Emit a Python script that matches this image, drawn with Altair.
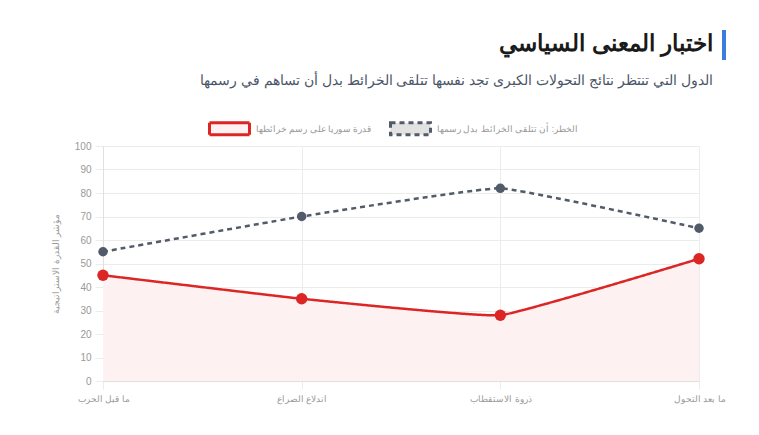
import altair as alt
import pandas as pd

categories = ["ما قبل الحرب", "اندلاع الصراع", "ذروة الاستقطاب", "ما بعد التحول"]
series_names = ["قدرة سوريا على رسم خرائطها", "الخطر: أن تتلقى الخرائط بدل رسمها"]
capacity = [45, 35, 28, 52]
risk = [55, 70, 82, 65]

rows = []
for c, v in zip(categories, capacity):
    rows.append({"stage": c, "series": series_names[0], "value": v})
for c, v in zip(categories, risk):
    rows.append({"stage": c, "series": series_names[1], "value": v})
df = pd.DataFrame(rows)

RED = "#dc2626"
GRAY = "#525b69"

x_enc = alt.X("stage:N", sort=categories,
              scale=alt.Scale(type="point", padding=0),
              axis=alt.Axis(title=None, labelAngle=0, labelColor="#999999",
                            labelFontSize=9, grid=True, gridColor="#ececec",
                            domainColor="#e0e0e0", tickColor="#ececec",
                            tickSize=8, labelPadding=5))
y_enc = alt.Y("value:Q", scale=alt.Scale(domain=[0, 100], nice=False),
              axis=alt.Axis(title="مؤشر القدرة الاستراتيجية", values=list(range(0, 101, 10)),
                            labelColor="#999999", labelFontSize=10,
                            titleColor="#999999", titleFontSize=9, titleFontWeight="normal",
                            titlePadding=14,
                            gridColor="#ececec", domainColor="#e0e0e0",
                            tickColor="#ececec", tickSize=8, labelPadding=4))

legend = alt.Legend(title=None, orient="none", direction="horizontal",
                    legendX=105, legendY=-39,
                    symbolType="M-1,-0.3L1,-0.3L1,0.3L-1,0.3Z", symbolSize=1600,
                    symbolStrokeWidth=3, labelColor="#999999", labelFontSize=8.5,
                    columnPadding=12, labelOffset=5)

color = alt.Color("series:N", scale=alt.Scale(domain=series_names, range=[RED, GRAY]),
                  legend=legend)
dash = alt.StrokeDash("series:N", scale=alt.Scale(domain=series_names, range=[[1, 0], [5, 4]]),
                      legend=legend)
fill = alt.Fill("series:N", scale=alt.Scale(domain=series_names, range=["#fdf1f1", "#e2e2e2"]),
                legend=legend)

base = alt.Chart(df)

area = base.transform_filter(alt.datum.series == series_names[0]).mark_area(
    interpolate="cardinal", tension=0.7, fillOpacity=1
).encode(x=x_enc, y=y_enc, fill=fill)

line = base.mark_line(interpolate="cardinal", tension=0.7, strokeWidth=2.5).encode(
    x=x_enc, y=y_enc, color=color, strokeDash=dash,
)

pts_red = base.transform_filter(alt.datum.series == series_names[0]).mark_circle(
    opacity=1, color=RED, size=130).encode(x=x_enc, y=y_enc)
pts_gray = base.transform_filter(alt.datum.series == series_names[1]).mark_circle(
    opacity=1, color=GRAY, size=90).encode(x=x_enc, y=y_enc)

bar = alt.Chart(pd.DataFrame({"k": [0]})).mark_rule(color="#3b7ddd", strokeWidth=4).encode(
    x=alt.value(621), y=alt.value(-116), y2=alt.value(-86)
)

chart = alt.layer(area, line, pts_red, pts_gray, bar).properties(
    width=596, height=235,
    title=alt.TitleParams(
        text="اختبار المعنى السياسي",
        subtitle="الدول التي تنتظر نتائج التحولات الكبرى تجد نفسها تتلقى الخرائط بدل أن تساهم في رسمها",
        anchor="end", dx=-13, dy=60, fontSize=23, fontWeight="bold", color="#1a1a1a",
        subtitleFontSize=14.2, subtitleColor="#4a5568", subtitlePadding=18, offset=0,
    ),
    autosize=alt.AutoSizeParams(type="none"),
    padding={"left": 95, "top": 138, "right": 52, "bottom": 40},
).configure_view(stroke=None)

chart.save("out.html", embed_options={"renderer": "svg", "actions": False})
